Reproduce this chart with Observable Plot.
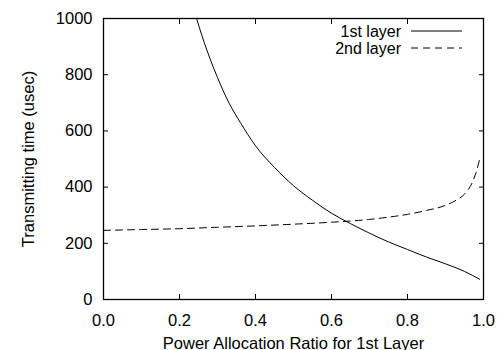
<!DOCTYPE html>
<html>
<head>
<meta charset="utf-8">
<script src="https://cdn.jsdelivr.net/npm/d3@7"></script>
<script src="https://cdn.jsdelivr.net/npm/@observablehq/plot@0.6"></script>
<style>
  html, body { margin: 0; padding: 0; background: white; }
</style>
</head>
<body>
<div id="chart"></div>
<script>
// Data
const ratio1 = [0.245, 0.26, 0.28, 0.30, 0.33, 0.36, 0.40, 0.45, 0.50, 0.55, 0.60, 0.65, 0.70, 0.75, 0.80, 0.85, 0.90, 0.95, 0.99];
const time1  = [1000, 935, 858, 790, 700, 630, 547, 470, 405, 353, 307, 270, 236, 205, 178, 151, 127, 100, 72];

const ratio2 = [0.00, 0.10, 0.20, 0.30, 0.40, 0.50, 0.60, 0.70, 0.75, 0.80, 0.85, 0.90, 0.93, 0.95, 0.97, 0.98, 0.99];
const time2  = [246, 249, 252, 257, 262, 268, 275, 285, 293, 303, 317, 335, 355, 375, 415, 450, 500];

const xTicks = [0, 0.2, 0.4, 0.6, 0.8, 1.0];
const yTicks = [0, 200, 400, 600, 800, 1000];

const seriesNames = ["1st layer", "2nd layer"];
const xLabel = "Power Allocation Ratio for 1st Layer";
const yLabel = "Transmitting time (usec)";

const layer1 = ratio1.map((r, i) => ({ratio: r, time: time1[i]}));
const layer2 = ratio2.map((r, i) => ({ratio: r, time: time2[i]}));

const font = "'Liberation Sans', Arial, Helvetica, sans-serif";

const plot = Plot.plot({
  width: 502,
  height: 350,
  marginLeft: 103,
  marginRight: 19,
  marginTop: 18,
  marginBottom: 51,
  style: {fontFamily: font, fontSize: "16.5px", background: "white", color: "black", overflow: "visible"},
  x: {domain: [0, 1]},
  y: {domain: [0, 1000]},
  marks: [
    Plot.axisX(xTicks, {anchor: "bottom", tickSize: -5, tickPadding: 20, tickFormat: d => d.toFixed(1),
      label: xLabel, labelAnchor: "center", labelOffset: 49, labelArrow: "none", fontSize: 16.5}),
    Plot.axisX(xTicks, {anchor: "top", tickSize: -5, tickFormat: () => "", label: null}),
    Plot.axisY(yTicks, {anchor: "left", tickSize: -5, tickPadding: 16, tickFormat: d => String(d),
      label: yLabel, labelAnchor: "center", labelOffset: 81, labelArrow: "none", fontSize: 16.5}),
    Plot.axisY(yTicks, {anchor: "right", tickSize: -5, tickFormat: () => "", label: null}),
    Plot.line(layer1, {x: "ratio", y: "time", stroke: "black", strokeWidth: 1, curve: "monotone-x", clip: true}),
    Plot.line(layer2, {x: "ratio", y: "time", stroke: "black", strokeWidth: 1, strokeDasharray: "7,5", curve: "monotone-x", clip: true}),
    Plot.frame({stroke: "black", strokeWidth: 1.3})
  ]
});

// Legend (inside the top-right corner of the frame)
const svgSel = d3.select(plot);
const xs = plot.scale("x");
const ys = plot.scale("y");
const frameRight = xs.apply(1);
const frameTop = ys.apply(1000);
const dashes = [null, "7,5"];
seriesNames.forEach((name, i) => {
  const cy = frameTop + 13 + i * 17;
  svgSel.append("text")
    .attr("x", frameRight - 82).attr("y", cy).attr("dy", "0.36em")
    .attr("text-anchor", "end")
    .attr("font-family", font).attr("font-size", 16).attr("fill", "black")
    .text(name);
  svgSel.append("line")
    .attr("x1", frameRight - 72).attr("x2", frameRight - 21)
    .attr("y1", cy).attr("y2", cy)
    .attr("stroke", "black").attr("stroke-width", 1)
    .attr("stroke-dasharray", dashes[i]);
});

document.getElementById("chart").appendChild(plot);
</script>
</body>
</html>
